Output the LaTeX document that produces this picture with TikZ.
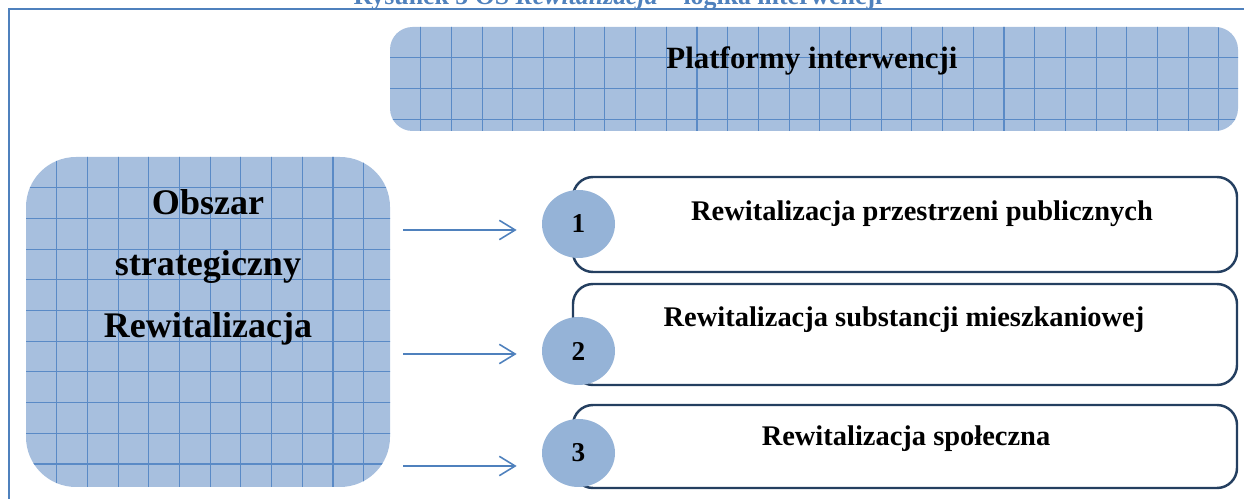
\documentclass[tikz,border=0pt]{standalone}
\usepackage{fontspec}
\setmainfont{Liberation Serif}
\usetikzlibrary{shapes.geometric,arrows.meta}
\definecolor{ramka}{HTML}{4F81BD}
\definecolor{siatka}{HTML}{A7BFDE}
\definecolor{linia}{HTML}{5A8AC6}
\definecolor{kolko}{HTML}{95B3D7}
\definecolor{obrys}{HTML}{243F60}

\begin{document}
\begin{tikzpicture}[x=0.02cm,y=-0.02cm,
  gridbox/.style 2 args={fill=siatka, inner sep=0pt,
    minimum width=#1*0.02cm, minimum height=#2*0.02cm, path picture={
    \foreach \k in {1,...,30} {
      \draw[linia, line width=0.6pt] (-#1/2+\k*30.7,-#2/2-10) -- (-#1/2+\k*30.7,#2/2+10);
      \draw[linia, line width=0.6pt] (-#1/2-10,-#2/2+\k*30.7) -- (#1/2+10,-#2/2+\k*30.7);
    }}},
  itembox/.style={draw=obrys, line width=1.4pt, fill=white, rounded corners=0.4cm,
    minimum width=664*0.02cm, inner sep=0pt},
  nr/.style={ellipse, fill=kolko, minimum width=73*0.02cm, minimum height=68*0.02cm,
    inner sep=0pt, font=\fontsize{15.5}{18}\selectfont\bfseries},
  strz/.style={draw=ramka, line width=0.9pt, -{Straight Barb[length=9pt,width=11pt]},
    shorten <=0.26cm, shorten >=0.5cm},
  tekst/.style={font=\fontsize{16.2}{19}\selectfont\bfseries, anchor=base, inner sep=0pt},
  duzy/.style={font=\fontsize{20.5}{24}\selectfont\bfseries, anchor=base, inner sep=0pt}]
\useasboundingbox (0,0) rectangle (1244,499);

\draw[ramka, line width=1.1pt] (9,499) -- (9,9) -- (1244,9);
\node[font=\fontsize{14.7}{17}\selectfont\bfseries, text=ramka, anchor=base, inner sep=0pt] (tytul) at (618,5) {Rysunek 5 OS \textit{Rewitalizacja} – logika interwencji};

\node[gridbox={848}{104}, rounded corners=0.45cm] (platformy) at (814,79) {};
\node[tekst, font=\fontsize{17.6}{20}\selectfont\bfseries] (platformy-t) at (812,69) {Platformy interwencji};

\node[gridbox={364}{330}, rounded corners=1cm] (obszar) at (208,322) {};
\node[duzy] (obszar-1) at (208,215) {Obszar};
\node[duzy] (obszar-2) at (208,276) {strategiczny};
\node[duzy] (obszar-3) at (208,338) {Rewitalizacja};

\node[itembox, minimum height=95*0.02cm] (p1) at (905,224.5) {};
\node[itembox, minimum height=101*0.02cm] (p2) at (905,334.5) {};
\node[itembox, minimum height=83*0.02cm] (p3) at (905,446.5) {};
\node[tekst] (p1-t) at (922,221) {Rewitalizacja przestrzeni publicznych};
\node[tekst] (p2-t) at (904,327) {Rewitalizacja substancji mieszkaniowej};
\node[tekst] (p3-t) at (906,446) {Rewitalizacja społeczna};

\node[nr] (n1) at (578.5,224) {1};
\node[nr] (n2) at (578.5,351) {2};
\node[nr] (n3) at (578.5,453) {3};

\coordinate (y1) at (0,230);
\coordinate (y2) at (0,354);
\coordinate (y3) at (0,466);
\draw[strz] (obszar.east |- y1) -- (n1.west |- y1);
\draw[strz] (obszar.east |- y2) -- (n2.west |- y2);
\draw[strz] (obszar.east |- y3) -- (n3.west |- y3);
\end{tikzpicture}
\end{document}
